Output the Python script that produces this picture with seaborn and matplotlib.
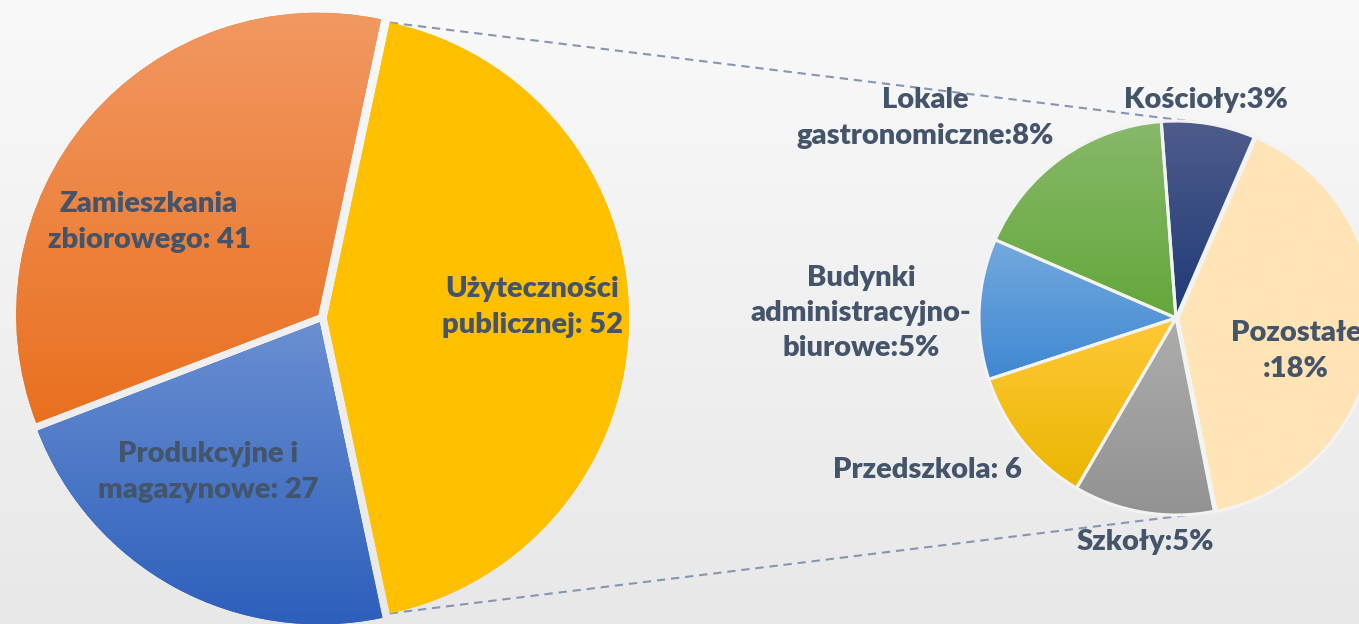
import numpy as np
import matplotlib
matplotlib.use('Agg')
import matplotlib.pyplot as plt
import seaborn as sns
from matplotlib.colors import LinearSegmentedColormap
from matplotlib.patches import Wedge

# glowny podzial budynkow
main_labels = ['Użyteczności\npublicznej: 52', 'Produkcyjne i\nmagazynowe: 27', 'Zamieszkania\nzbiorowego: 41']
main_values = [52, 27, 41]
main_top = ['#FFC000', '#6A8FD2', '#F29862']
main_bottom = ['#FFC000', '#2D5FBB', '#E9701F']

# rozbicie "uzytecznosci publicznej"
sub_labels = ['Kościoły:3%', 'Pozostałe\n:18%', 'Szkoły:5%', 'Przedszkola: 6',
              'Budynki\nadministracyjno-\nbiurowe:5%', 'Lokale\ngastronomiczne:8%']
sub_values = [4, 21, 6, 6, 6, 9]
sub_top = ['#4E5C8B', '#FFE4B6', '#ADADAD', '#FFC938', '#74A9DE', '#87B96A']
sub_bottom = ['#1F3A77', '#FFE4B6', '#929292', '#EAB600', '#3F88D2', '#64A73A']

W, H = 1359, 624
TXT = '#44546A'

sns.set_style('white')
plt.rcParams['font.family'] = ['Lato', 'DejaVu Sans']


def grad_fill(ax, wedge, top, bottom):
    bb = wedge.get_path().get_extents()
    cmap = LinearSegmentedColormap.from_list('g', [bottom, top])
    g = np.linspace(0, 1, 256).reshape(-1, 1)
    im = ax.imshow(g, cmap=cmap, origin='lower', extent=(bb.x0, bb.x1, bb.y0, bb.y1),
                   aspect='auto', interpolation='bilinear', zorder=2)
    im.set_clip_path(wedge)


fig = plt.figure(figsize=(W / 100, H / 100), dpi=100)
ax = fig.add_axes([0, 0, 1, 1])

# tlo
bg = np.linspace(0, 1, 256).reshape(-1, 1)
ax.imshow(bg, cmap=LinearSegmentedColormap.from_list('bg', ['#E8E8E8', '#F9F9F9']),
          origin='lower', extent=(0, W, 0, H), aspect='auto', zorder=0)

c1, r1 = (322, H - 318), 302
c2, r2 = (1176, H - 318), 197

# explode w jednostkach danych (piksele)
w1, _ = ax.pie(main_values, center=c1, radius=r1, startangle=78, counterclock=False,
               explode=[5, 5, 5], colors=main_bottom,
               wedgeprops=dict(linewidth=0, zorder=1))
for w, t, b in zip(w1, main_top, main_bottom):
    grad_fill(ax, w, t, b)

w2, _ = ax.pie(sub_values, center=c2, radius=r2, startangle=94.3, counterclock=False,
               explode=[0, 2, 0, 0, 0, 0], colors=sub_bottom,
               wedgeprops=dict(linewidth=0, zorder=1))
for w, t, b in zip(w2, sub_top, sub_bottom):
    grad_fill(ax, w, t, b)
    ax.add_patch(Wedge(w.center, w.r, w.theta1, w.theta2, fill=False,
                       ec='#F3F3F3', lw=2.2, zorder=3))

# linie laczace
yw = w1[0]
for a1, a2 in [(yw.theta2, 83), (yw.theta1, -83)]:
    p1 = (yw.center[0] + yw.r * np.cos(np.radians(a1)), yw.center[1] + yw.r * np.sin(np.radians(a1)))
    p2 = (c2[0] + r2 * np.cos(np.radians(a2)), c2[1] + r2 * np.sin(np.radians(a2)))
    ax.plot([p1[0], p2[0]], [p1[1], p2[1]], color='#8497B0', lw=1.5,
            ls=(0, (4, 2.8)), zorder=1.5)

main_pos = [(532, 307), (208, 472), (149, 222)]
sub_pos = [(1206, 100), (1296, 351), (1145, 542), (927, 470), (861, 313), (925, 118)]
for lab, (x, y) in zip(main_labels + sub_labels, main_pos + sub_pos):
    ax.text(x, H - y, lab, ha='center', va='center', fontsize=21, fontweight='heavy',
            color=TXT, linespacing=1.44, zorder=5)

ax.set_xlim(0, W)
ax.set_ylim(0, H)
ax.set_aspect('equal')
ax.axis('off')

fig.savefig('out.png', dpi=100)
